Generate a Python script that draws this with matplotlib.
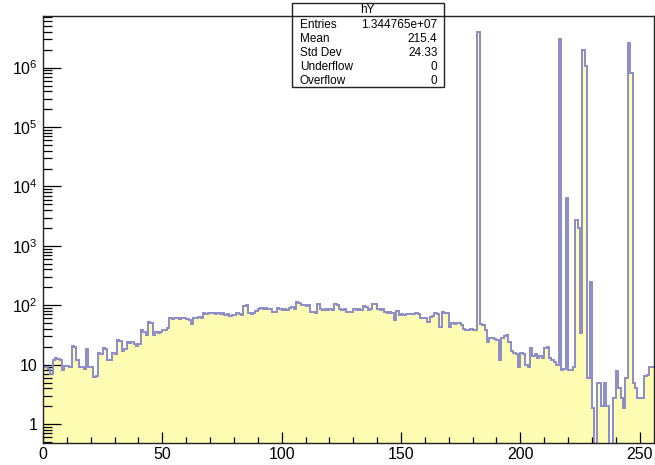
import numpy as np
import matplotlib
matplotlib.use("Agg")
import matplotlib.pyplot as plt
from matplotlib.ticker import MultipleLocator, LogLocator, NullFormatter, FuncFormatter, FixedLocator
from matplotlib.patches import Rectangle
from matplotlib.lines import Line2D

plt.rcParams['font.family'] = ['Liberation Sans', 'DejaVu Sans']
plt.rcParams['mathtext.fontset'] = 'custom'
plt.rcParams['mathtext.rm'] = 'Liberation Sans'

# histogram hY: 256 bins on [0, 256)
x_min, x_max = 0, 256

counts = np.array([
    # 0 - 39
    9, 9, 8.5, 7, 12, 13, 12.5, 12, 8, 9.5, 9.5, 9, 21, 20, 12, 9, 9, 8.5, 18, 9,
    9, 6.2, 6.5, 16, 15, 19, 18, 12, 12, 16, 15, 26, 25, 17, 18, 24, 23, 24, 22, 21,
    # 40 - 79
    22, 38, 36, 31, 52, 50, 31, 35, 34, 36, 38, 39, 42, 60, 58, 62, 60, 58, 61, 60,
    58, 57, 48, 62, 60, 63, 61, 73, 72, 74, 73, 75, 72, 74, 71, 73, 68, 70, 66, 69,
    # 80 - 119
    68, 73, 70, 68, 96, 100, 74, 72, 75, 80, 88, 90, 86, 90, 88, 86, 76, 78, 90, 88,
    84, 86, 84, 90, 92, 88, 112, 110, 100, 102, 98, 100, 78, 76, 74, 104, 86, 84, 88, 84,
    # 120 - 159
    86, 84, 106, 100, 86, 84, 88, 76, 78, 76, 86, 84, 88, 84, 96, 92, 84, 86, 106, 104,
    86, 84, 86, 76, 74, 76, 74, 56, 80, 68, 70, 68, 72, 70, 72, 70, 73, 72, 62, 60,
    # 160 - 199
    61, 52, 64, 66, 73, 72, 43, 76, 74, 75, 43, 50, 49, 51, 50, 46, 40, 38, 39, 40,
    38, 39, 3.97e6, 48, 46, 38, 24, 28, 28, 27, 26, 12, 28, 30, 31, 24, 17, 16, 15, 9,
    # 200 - 239
    16, 15, 10, 9, 19, 14, 15, 13, 14, 13, 19, 20, 13, 12, 11, 10, 3.0e6, 8, 8.5, 6300,
    8, 8, 9, 2700, 1970, 34, 1.98e6, 1.07e6, 6, 245, 1.9, 0, 5, 5, 2, 5, 2, 0, 0, 2.8,
    # 240 - 255
    7.8, 4, 2.8, 1.9, 6, 2.58e6, 8.2e5, 5, 4, 2.8, 2.8, 2.8, 6.5, 6.6, 9, 9,
])

entries_text = "1.344765e+07"
mean_text = "215.4"
std_text = "24.33"
underflow_text = "0"
overflow_text = "0"

x_ticks_major = [0, 50, 100, 150, 200, 250]
y_ticks_major = [1, 10, 1e2, 1e3, 1e4, 1e5, 1e6]
y_limits = (0.48, 7.4e6)

fill_color = '#fffcb4'
line_color = '#8c8cc6'

fig = plt.figure(figsize=(6.55, 4.65), dpi=100)
ax = fig.add_axes([43 / 655, 1 - 443 / 465, (654 - 43) / 655, (443 - 16) / 465])

edges = np.arange(x_min, x_max + 1)
floor = 1e-3
draw_counts = np.where(counts > 0, counts, floor)

ax.stairs(draw_counts, edges, baseline=floor, fill=True, color=fill_color, lw=0, zorder=1)
ax.stairs(draw_counts, edges, baseline=None, color=line_color, lw=1.4, zorder=2)

ax.set_yscale('log')
ax.set_xlim(x_min, x_max)
ax.set_ylim(*y_limits)

ax.xaxis.set_major_locator(FixedLocator(x_ticks_major))
ax.xaxis.set_minor_locator(MultipleLocator(10))
ax.yaxis.set_major_locator(FixedLocator(y_ticks_major))
ax.yaxis.set_minor_locator(LogLocator(base=10, subs=np.arange(2, 10), numticks=20))
ax.yaxis.set_minor_formatter(NullFormatter())


def log_label(v, pos):
    n = int(round(np.log10(v)))
    if n == 0:
        return '1'
    if n == 1:
        return '10'
    return r'$\mathregular{10^{%d}}$' % n


ax.yaxis.set_major_formatter(FuncFormatter(log_label))

ax.tick_params(axis='both', which='both', direction='in', top=False, right=False,
               color='black', width=0.9, labelsize=11.5)
ax.tick_params(axis='x', which='major', length=8, pad=3)
ax.tick_params(axis='x', which='minor', length=4)
ax.tick_params(axis='y', which='major', length=13, pad=4)
ax.tick_params(axis='y', which='minor', length=6.5)

for sp in ax.spines.values():
    sp.set_linewidth(1.0)
    sp.set_color('#222222')
    sp.set_zorder(5)

# statistics box
px = lambda v: v / 655
py = lambda v: 1 - v / 465
box_l, box_r, box_t, box_b = 291.7, 444, 3.5, 87
fig.patches.append(Rectangle((px(box_l), py(box_b)), px(box_r) - px(box_l), py(box_t) - py(box_b),
                             transform=fig.transFigure, facecolor='white', edgecolor='#222222',
                             lw=1.0, zorder=10))
fig.lines.append(Line2D([px(box_l), px(box_r)], [py(16.5), py(16.5)], transform=fig.transFigure,
                        color='#222222', lw=1.0, zorder=11))
fig.text(px((box_l + box_r) / 2), py(10), 'hY', ha='center', va='center', fontsize=8.5, zorder=12)
rows = [("Entries", entries_text), ("Mean", mean_text), ("Std Dev", std_text),
        ("Underflow", underflow_text), ("Overflow", overflow_text)]
for i, (name, val) in enumerate(rows):
    yy = py(25 + 14 * i)
    fig.text(px(300), yy, name, ha='left', va='center', fontsize=8.5, zorder=12)
    fig.text(px(437.5), yy, val, ha='right', va='center', fontsize=8.5, zorder=12)

fig.savefig('out.png', dpi=100)
